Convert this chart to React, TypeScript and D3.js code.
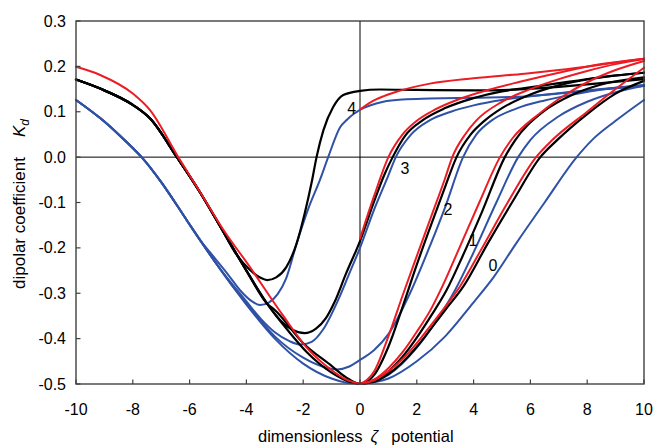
import React from "react";
import * as d3 from "d3";

type P = [number, number];

const ZETA_TICKS = [-10, -8, -6, -4, -2, 0, 2, 4, 6, 8, 10];
const K_TICKS = [-0.5, -0.4, -0.3, -0.2, -0.1, 0, 0.1, 0.2, 0.3];

// shared branches for negative zeta
const redLeft: P[] = [[-10, 0.199], [-9.15, 0.181], [-8, 0.14], [-7.4, 0.104], [-6.4, 0], [-5.6, -0.08], [-4.8, -0.161], [-3.9, -0.24], [-2.7, -0.35], [-1.9, -0.418], [-1.05, -0.467], [-0.5, -0.49], [0, -0.5]];
const blackLeft: P[] = [[-10, 0.171], [-9.15, 0.151], [-8, 0.115], [-7.39, 0.085], [-6.45, 0], [-5.63, -0.078], [-4.9, -0.155], [-4, -0.25], [-3.27, -0.323], [-2.5, -0.385], [-1.87, -0.43], [-1, -0.475], [-0.5, -0.492], [0, -0.5]];
const blueLeft: P[] = [[-10, 0.126], [-9.15, 0.086], [-8.5, 0.05], [-8, 0.02], [-7.69, 0], [-7, -0.055], [-6.1, -0.139], [-5.63, -0.183], [-5, -0.24], [-4, -0.325], [-3, -0.4], [-2, -0.455], [-1, -0.488], [-0.5, -0.497], [0, -0.5]];

// curve 4
const black4: P[] = [[-4.4, -0.21], [-3.9, -0.247], [-3.5, -0.266], [-3.27, -0.271], [-2.95, -0.265], [-2.6, -0.243], [-2.23, -0.19], [-1.95, -0.125], [-1.7, -0.055], [-1.53, 0], [-1.29, 0.059], [-0.94, 0.111], [-0.59, 0.137], [0, 0.146], [0.7, 0.149], [2, 0.148], [4, 0.147], [5.6, 0.149], [7, 0.155], [8.5, 0.163], [10, 0.172]];
const blue4: P[] = [[-5.2, -0.216], [-4.68, -0.256], [-4.2, -0.295], [-3.8, -0.318], [-3.52, -0.326], [-3.2, -0.32], [-2.9, -0.302], [-2.6, -0.267], [-2.23, -0.19], [-1.8, -0.11], [-1.41, -0.05], [-1.12, 0], [-0.7, 0.066], [-0.45, 0.083], [-0.2, 0.096], [0, 0.104], [0.82, 0.122], [1.5, 0.127], [2.46, 0.129], [4, 0.131], [5.6, 0.133], [7, 0.14], [8.5, 0.149], [10, 0.157]];
const red4: P[] = [[0, 0.105], [0.4, 0.122], [0.82, 0.134], [1.23, 0.143], [2.46, 0.162], [4, 0.174], [5.8, 0.184], [7, 0.192], [8.5, 0.204], [10, 0.217]];

// curve 3
const black3: P[] = [[-2.8, -0.36], [-2.4, -0.38], [-1.95, -0.388], [-1.55, -0.378], [-1.2, -0.355], [-0.9, -0.32], [-0.5, -0.258], [0, -0.185], [0.5, -0.097], [0.85, -0.04], [1.15, 0], [1.6, 0.048], [2.2, 0.081], [3, 0.108], [4, 0.13], [5, 0.145], [5.8, 0.152], [7, 0.163], [8.5, 0.176], [10, 0.186]];
const blue3: P[] = [[-4.5, -0.28], [-4, -0.318], [-3.5, -0.356], [-3, -0.386], [-2.5, -0.405], [-2.1, -0.413], [-1.7, -0.407], [-1.3, -0.38], [-0.77, -0.315], [-0.4, -0.26], [0, -0.2], [0.5, -0.115], [1, -0.04], [1.26, 0], [1.8, 0.05], [2.45, 0.081], [3.2, 0.1], [4, 0.114], [5, 0.126], [6, 0.134], [7, 0.141], [8.5, 0.15], [10, 0.158]];
const red3: P[] = [[0, -0.18], [0.5, -0.085], [1, 0], [1.5, 0.05], [2, 0.08], [2.5, 0.1], [3.5, 0.128], [4.5, 0.148], [5.63, 0.166], [7, 0.186], [8.5, 0.205], [10, 0.217]];

// curve 2
const black2: P[] = [[-3, -0.337], [-2, -0.41], [-1, -0.46], [-0.5, -0.485], [0, -0.5], [0.5, -0.48], [1, -0.418], [1.5, -0.33], [2, -0.237], [2.5, -0.15], [3, -0.065], [3.4, 0], [3.9, 0.05], [4.4, 0.081], [5, 0.108], [6, 0.138], [7, 0.158], [8, 0.171], [9, 0.18], [10, 0.186]];
const blue2: P[] = [[-4.5, -0.283], [-4, -0.322], [-3, -0.395], [-2, -0.442], [-1.3, -0.462], [-0.8, -0.468], [-0.4, -0.462], [0, -0.447], [0.5, -0.425], [1, -0.39], [1.76, -0.3], [2.5, -0.19], [3, -0.11], [3.63, 0], [4.1, 0.05], [4.64, 0.081], [5.5, 0.107], [6.5, 0.125], [7.5, 0.138], [8.5, 0.149], [10, 0.159]];
const red2: P[] = [[0, -0.5], [0.5, -0.472], [1, -0.395], [1.5, -0.305], [2, -0.218], [2.5, -0.132], [3, -0.046], [3.25, 0], [3.7, 0.05], [4.1, 0.081], [5, 0.122], [6, 0.15], [7, 0.172], [8, 0.19], [9, 0.205], [10, 0.216]];

// curve 1
const red1: P[] = [[0, -0.5], [0.5, -0.49], [1, -0.465], [1.5, -0.43], [2, -0.385], [2.5, -0.335], [2.9, -0.285], [3.5, -0.2], [4.2, -0.1], [4.93, 0], [5.35, 0.04], [6.3, 0.095], [7, 0.128], [8, 0.165], [9, 0.192], [10, 0.212]];
const black1: P[] = [[0, -0.5], [0.5, -0.493], [1, -0.472], [1.5, -0.44], [2, -0.398], [2.5, -0.35], [3.05, -0.293], [3.6, -0.22], [4.3, -0.12], [5.1, 0], [5.46, 0.037], [6.45, 0.1], [7.5, 0.138], [8.5, 0.16], [10, 0.176]];
const blue1: P[] = [[0, -0.5], [1, -0.48], [2, -0.42], [2.7, -0.36], [3.35, -0.293], [4, -0.21], [4.8, -0.1], [5.57, 0], [5.99, 0.037], [7, 0.09], [8, 0.122], [9, 0.143], [10, 0.157]];

// curve 0
const red0: P[] = [[0, -0.5], [0.5, -0.492], [1, -0.472], [1.5, -0.445], [2, -0.41], [2.5, -0.37], [3, -0.33], [3.52, -0.285], [4.3, -0.2], [5.2, -0.1], [6.2, 0], [6.76, 0.037], [8, 0.1], [9, 0.15], [10, 0.197]];
const black0: P[] = [[0, -0.5], [0.5, -0.495], [1, -0.478], [1.5, -0.452], [2, -0.418], [2.5, -0.378], [3, -0.337], [3.64, -0.285], [4.5, -0.19], [5.4, -0.095], [6.35, 0], [6.93, 0.037], [8, 0.095], [9, 0.14], [10, 0.168]];
const blue0: P[] = [[0, -0.5], [1, -0.488], [2, -0.45], [3, -0.395], [4, -0.32], [4.7, -0.265], [5.5, -0.19], [6.5, -0.1], [7.63, 0], [8.16, 0.037], [9, 0.08], [10, 0.126]];

const CURVE_LABELS = ["4", "3", "2", "1", "0"];
const LABEL_ZETA = [-0.29, 1.58, 3.1, 3.98, 4.68];
const LABEL_K = [0.107, -0.024, -0.115, -0.183, -0.238];

const RED = "#ec1c24";
const BLACK = "#000000";
const BLUE = "#2f52a6";

const W = 653, H = 446;
const L = 76, R = 644, T = 21, B = 384;

function withLeft(left: P[], own: P[]): P[] {
  const start = own[0][0];
  return left.filter((p) => p[0] < start - 0.25).concat(own);
}

export default function App() {
  const x = d3.scaleLinear().domain([-10, 10]).range([L, R]);
  const y = d3.scaleLinear().domain([-0.5, 0.3]).range([B, T]);
  const line = d3
    .line<P>()
    .x((d) => x(d[0]))
    .y((d) => y(d[1]))
    .curve(d3.curveMonotoneX);

  const blues: P[][] = [blueLeft, blue0, blue1, withLeft(blueLeft, blue2), withLeft(blueLeft, blue3), withLeft(blueLeft, blue4)];
  const blacks: P[][] = [blackLeft, black0, black1, withLeft(blackLeft, black2), withLeft(blackLeft, black3), withLeft(blackLeft, black4)];
  const reds: P[][] = [redLeft, red0, red1, red2, red3, red4];

  const font = "Arial, 'Liberation Sans', Helvetica, sans-serif";

  return (
    <svg
      width={W}
      height={H}
      viewBox={`0 0 ${W} ${H}`}
      style={{ position: "absolute", left: 0, top: 0, background: "#fff" }}
      fontFamily={font}
    >
      <rect x={0} y={0} width={W} height={H} fill="#fff" />
      {/* zero lines */}
      <line x1={L} x2={R} y1={y(0)} y2={y(0)} stroke="#000" strokeWidth={1} />
      <line x1={x(0)} x2={x(0)} y1={T} y2={B} stroke="#000" strokeWidth={1} />

      <g fill="none" strokeLinecap="round" strokeLinejoin="round">
        {blues.map((d, i) => (
          <path key={"b" + i} d={line(d) || ""} stroke={BLUE} strokeWidth={2} />
        ))}
        {blacks.map((d, i) => (
          <path key={"k" + i} d={line(d) || ""} stroke={BLACK} strokeWidth={2.2} />
        ))}
        {reds.map((d, i) => (
          <path key={"r" + i} d={line(d) || ""} stroke={RED} strokeWidth={2} />
        ))}
      </g>

      {/* frame */}
      <rect x={L} y={T} width={R - L} height={B - T} fill="none" stroke="#404040" strokeWidth={1.4} />

      {/* ticks */}
      {ZETA_TICKS.map((t) => (
        <g key={"xt" + t}>
          <line x1={x(t)} x2={x(t)} y1={B} y2={B - 4.5} stroke="#404040" strokeWidth={1.2} />
          <text x={x(t)} y={B + 30.5} fontSize={16} textAnchor="middle" fill="#000">
            {String(t)}
          </text>
        </g>
      ))}
      {K_TICKS.map((t) => (
        <g key={"yt" + t}>
          <line x1={L} x2={L + 4.5} y1={y(t)} y2={y(t)} stroke="#404040" strokeWidth={1.2} />
          <text x={L - 10} y={y(t) + 5.6} fontSize={16} textAnchor="end" fill="#000">
            {t.toFixed(1)}
          </text>
        </g>
      ))}

      {/* curve labels */}
      {CURVE_LABELS.map((s, i) => (
        <text
          key={"lab" + s}
          x={x(LABEL_ZETA[i])}
          y={y(LABEL_K[i]) + 5.5}
          fontSize={16}
          textAnchor="middle"
          fill="#000"
        >
          {s}
        </text>
      ))}

      {/* x axis title */}
      <text x={258} y={441.5} fontSize={16.5} fill="#000">
        dimensionless
        <tspan dx={8} fontStyle="italic">ζ</tspan>
        <tspan dx={13}>potential</tspan>
      </text>

      {/* y axis title */}
      <text transform={`translate(25,289) rotate(-90)`} fontSize={17} fill="#000">
        dipolar coefficient
        <tspan dx={20} fontStyle="italic">K</tspan>
        <tspan fontStyle="italic" fontSize={12} dy={4}>d</tspan>
      </text>
    </svg>
  );
}
